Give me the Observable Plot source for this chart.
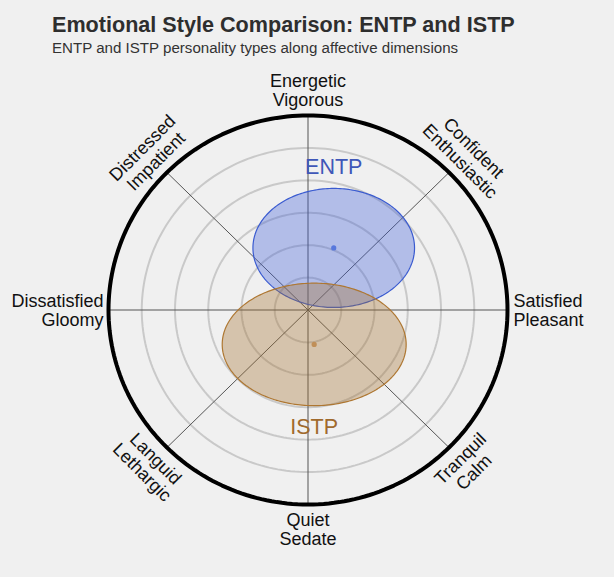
<!DOCTYPE html>
<html><head><meta charset="utf-8">
<script src="https://cdn.jsdelivr.net/npm/d3@7"></script>
<script src="https://cdn.jsdelivr.net/npm/@observablehq/plot@0.6"></script>
<style>
html,body{margin:0;padding:0;background:#f0f0f0;}
#wrap{position:relative;width:614px;height:577px;overflow:hidden;font-family:"Liberation Sans",Arial,sans-serif;}
#head{position:relative;height:62px;}
#title{position:absolute;left:52px;top:14px;font-size:21.6px;line-height:21.6px;font-weight:bold;color:#2e2e2e;white-space:nowrap;}
#sub{position:absolute;left:52px;top:39.8px;font-size:15.1px;line-height:15px;color:#333;white-space:nowrap;}
#chart svg{display:block;}
</style></head>
<body><div id="wrap">
<div id="head"><div id="title">Emotional Style Comparison: ENTP and ISTP</div><div id="sub">ENTP and ISTP personality types along affective dimensions</div></div>
<div id="chart"></div></div>
<script>
// ---- data ----
const types = ["ENTP", "ISTP"];
const centerX = [0.129, 0.031];
const centerY = [0.319, -0.177];
const radiusX = [0.405, 0.461];
const radiusY = [0.306, 0.315];
const strokeColors = ["#3a5bd0", "#ae7732"];
const fillColors = ["#3f5fd9", "#a3702e"];
const dotColors = ["#5878dc", "#c08f58"];
const textColors = ["#3f57b8", "#a06a2d"];
const axisLabels = ["Satisfied\nPleasant", "Confident\nEnthusiastic", "Energetic\nVigorous", "Distressed\nImpatient",
  "Dissatisfied\nGloomy", "Languid\nLethargic", "Quiet\nSedate", "Tranquil\nCalm"];
const axisAngles = [0, 45, 90, 135, 180, 225, 270, 315];
const ringLevels = [1/6, 2/6, 3/6, 4/6, 5/6];

// ---- geometry helpers ----
const rad = a => a * Math.PI / 180;
function ellipsePts(cx, cy, rx, ry, key) {
  const pts = [];
  for (let i = 0; i <= 240; i++) {
    const t = i / 240 * 2 * Math.PI;
    pts.push({x: cx + rx * Math.cos(t), y: cy + ry * Math.sin(t), key});
  }
  return pts;
}
const rings = ringLevels.flatMap((r, i) => ellipsePts(0, 0, r, r, i));
const outer = ellipsePts(0, 0, 1, 1, "outer");
const groups = types.map((t, i) => ({
  type: t, cx: centerX[i], cy: centerY[i], rx: radiusX[i], ry: radiusY[i],
  stroke: strokeColors[i], fill: fillColors[i], dot: dotColors[i], text: textColors[i]
}));
const axes = axisLabels.map((label, i) => ({label, angle: axisAngles[i]}));

const cx0 = 307.5, cy0 = 247.5, RX = 199.5, RY = 194.5;
const labelFont = 18;
const marks = [
  Plot.line(rings, {x: "x", y: "y", z: "key", stroke: "#c9c9c9", strokeWidth: 2}),
  Plot.link(axes, {x1: () => 0, y1: () => 0, x2: d => Math.cos(rad(d.angle)), y2: d => Math.sin(rad(d.angle)), stroke: "#555", strokeWidth: 1}),
  Plot.line(outer, {x: "x", y: "y", stroke: "#000", strokeWidth: 4})
];
groups.forEach(g => {
  marks.push(Plot.line(ellipsePts(g.cx, g.cy, g.rx, g.ry, g.type), {x: "x", y: "y", curve: "linear-closed", fill: g.fill, fillOpacity: 0.35, stroke: g.stroke, strokeWidth: 1.2}));
});
groups.forEach(g => {
  marks.push(Plot.dot([g], {x: "cx", y: "cy", r: 2.6, fill: g.dot, stroke: "none"}));
  marks.push(Plot.text([g], {x: "cx", y: d => d.cy + Math.sign(d.cy) * (d.ry + 0.11), text: "type", fill: g.text, fontSize: 21.5, lineAnchor: "middle"}));
});
const middleAxes = axes.filter(d => d.angle !== 0 && d.angle !== 180);
marks.push(Plot.text(middleAxes, {
  x: d => 1.127 * Math.cos(rad(d.angle)), y: d => 1.13 * Math.sin(rad(d.angle)),
  text: "label", fontSize: labelFont, lineHeight: 1.06, lineAnchor: "middle", textAnchor: "middle", fill: "#111",
  rotate: d => (d.angle % 180 === 45 ? 45 : d.angle % 180 === 135 ? -45 : 0)
}));
marks.push(Plot.text(axes.filter(d => d.angle === 0), {x: () => 1.03, y: () => 0, text: "label", fontSize: labelFont, lineHeight: 1.06, lineAnchor: "middle", textAnchor: "start", fill: "#111"}));
marks.push(Plot.text(axes.filter(d => d.angle === 180), {x: () => -1.025, y: () => 0, text: "label", fontSize: labelFont, lineHeight: 1.06, lineAnchor: "middle", textAnchor: "end", fill: "#111"}));

const chart = Plot.plot({
  width: 614, height: 515,
  x: {domain: [-1, 1], range: [cx0 - RX, cx0 + RX], axis: null},
  y: {domain: [-1, 1], range: [cy0 + RY, cy0 - RY], axis: null},
  style: {background: "transparent", fontFamily: "'Liberation Sans', Arial, sans-serif"},
  marks
});
document.getElementById("chart").appendChild(chart);
</script>
</body></html>
